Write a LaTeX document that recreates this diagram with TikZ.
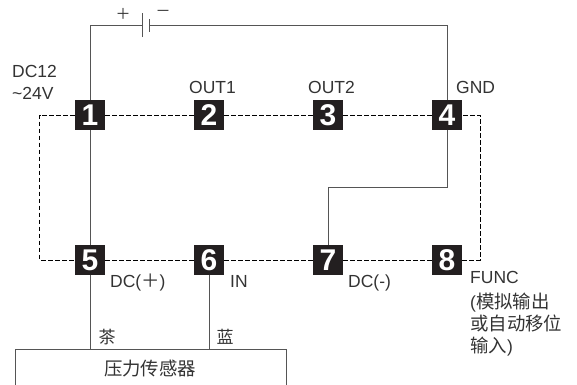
\documentclass[tikz,border=0pt]{standalone}
\usepackage{fontspec}
\setmainfont{Liberation Sans}
\newfontfamily\cjk{Noto Sans CJK SC}
\usetikzlibrary{backgrounds}
\definecolor{termblack}{HTML}{231F20}
\definecolor{wiregray}{HTML}{555555}
\definecolor{textgray}{HTML}{333333}
\tikzset{
    terminal/.style={fill=termblack,text=white,minimum size=30pt,inner sep=0pt,font=\bfseries\fontsize{30}{30}\selectfont},
    wire/.style={wiregray,line width=1pt},
    dashline/.style={black,line width=0.8pt,dash pattern=on 4.5pt off 2.5pt},
    lbl/.style={anchor=base west,inner sep=0pt,text=textgray,font=\fontsize{17.5}{17.5}\selectfont},
    cjklbl/.style={inner sep=0pt,text=textgray,font=\cjk\fontsize{17}{17}\selectfont},
}
\begin{document}
\begin{tikzpicture}[x=1pt,y=-1pt]
    \useasboundingbox (0,0) rectangle (577,384);
    \clip (0,0) rectangle (577,384);

    \node[terminal] (t1) at (90,115){1};
    \node[terminal] (t2) at (209,115){2};
    \node[terminal] (t3) at (328,115){3};
    \node[terminal] (t4) at (447,115){4};
    \node[terminal] (t5) at (90,260){5};
    \node[terminal] (t6) at (209,260){6};
    \node[terminal] (t7) at (328,260){7};
    \node[terminal] (t8) at (447,260){8};

    \node[draw=wiregray,line width=0.8pt,minimum width=271pt,minimum height=60pt,inner sep=0pt,anchor=north west] (sensor) at (14.5,349){};
    \node[cjklbl,font=\cjk\fontsize{18.4}{18.4}\selectfont] (sensorlbl) at (150,369){压力传感器};

    \coordinate (battplus) at (142.5,25);
    \coordinate (battminus) at (149.5,25);
    \coordinate (dashtl) at (39.5,115);
    \coordinate (dashtr) at (480,115);
    \coordinate (dashbr) at (480,260);
    \coordinate (dashbl) at (39.5,260);
    \coordinate (bendtop) at (447,187);
    \coordinate (bendbot) at (328,187);

    \begin{scope}[on background layer]
        \draw[dashline] (t1)--(dashtl)--(dashbl)--(t5)--(t6)--(t7)--(t8)--(dashbr)--(dashtr)--(t4)--(t3)--(t2)--(t1);
        \draw[wire] (battplus)-|(t1);
        \draw[wire] (battminus)-|(t4);
        \draw[wire] (t1)--(t5);
        \draw[wire] (t4)--(bendtop)--(bendbot)--(t7);
        \draw[wire] (t5)--(t5|-sensor.north);
        \draw[wire] (t6)--(t6|-sensor.north);
    \end{scope}

    % battery
    \draw[wire] ([yshift=-12pt]battplus)--([yshift=12pt]battplus);
    \draw[wire] ([yshift=-6.5pt]battminus)--([yshift=6.5pt]battminus);
    \node[cjklbl,font=\cjk\fontsize{15}{15}\selectfont] (plus) at (123,13.5){＋};
    \node[cjklbl,font=\cjk\fontsize{15}{15}\selectfont] (minus) at (163,13.5){－};

    \node[lbl] (supply) at (12,77){DC12};
    \node[lbl] (supplyb) at (12,99){\textasciitilde 24V};
    \node[lbl] (out1) at (189,93.5){OUT1};
    \node[lbl] (out2) at (308,93.5){OUT2};
    \node[lbl] (gnd) at (456,93.5){GND};
    \node[lbl] (dcp) at (110,287){DC({\cjk\fontsize{18.4}{18.4}\selectfont ＋})};
    \node[lbl] (in) at (230,287){IN};
    \node[lbl] (dcm) at (348,287){DC(-)};
    \node[lbl] (func) at (470,283){FUNC};
    \node[lbl] (funca) at (470,308){(\cjk\fontsize{18.4}{18.4}\selectfont 模拟输出};
    \node[lbl] (funcb) at (470,330){\cjk\fontsize{18.4}{18.4}\selectfont 或自动移位};
    \node[lbl] (funcc) at (470,352){{\cjk\fontsize{18.4}{18.4}\selectfont 输入})};
    \node[cjklbl] (brown) at (107,337){茶};
    \node[cjklbl] (blue) at (225,337){蓝};
\end{tikzpicture}
\end{document}
